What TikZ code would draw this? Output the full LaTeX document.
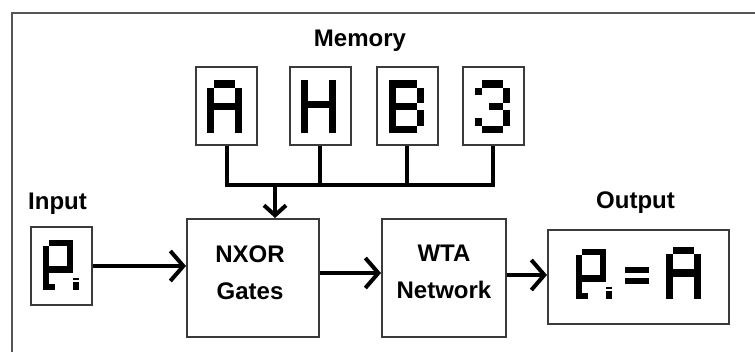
\documentclass[tikz,border=0pt]{standalone}
\usepackage{fontspec}
\setmainfont{Liberation Sans}
\usetikzlibrary{arrows.meta}
\definecolor{boxgray}{HTML}{3A3A3A}
\definecolor{framegray}{HTML}{555555}
\newcommand{\drawglyph}[3]{\foreach \pa/\pb/\pc/\pd in #3 {\fill (\pa*#1,\pb*#2) rectangle (\pc*#1,\pd*#2);}}
\newcommand{\pixA}{1/0/4/1,0/1/1/7,4/1/5/7,1/3/4/4}
\newcommand{\pixH}{0/0/1/7,4/0/5/7,1/2.7/4/3.7}
\newcommand{\pixB}{0/0/4/1,0/0/1/7,4/1/5/3,0/3/4/4,4/4/5/6,0/6/4/7}
\newcommand{\pixThree}{1/0/4/1,0/1/1/2,4/1/5/3,2/3/4/4,4/4/5/6,0/5/1/6,1/6/4/7}
\newcommand{\pixAbad}{1/0/5/1,0/1/1/8,4/1/5/5.3,1/4.1/5/5.3,1/7/2/8,5/6.8/6/8,5/6.1/6/6.45}
\tikzset{
  box/.style={draw=boxgray, line width=2pt, fill=white, inner sep=0pt},
  membox/.style={box, minimum width=61pt, minimum height=78pt},
  lbl/.style={font=\bfseries\fontsize{24}{37}\selectfont, align=center, inner sep=0pt},
  arr/.style={line width=4pt, -{Straight Barb[length=13pt,width=30pt]}},
  downarr/.style={line width=4pt, -{Straight Barb[length=10pt,width=22pt]}},
  bus/.style={line width=4pt, line join=miter},
}
\begin{document}
\begin{tikzpicture}[x=1pt,y=-1pt]
\useasboundingbox (0,0) rectangle (755,352);
\fill[white] (0,0) rectangle (755,352);
\draw[framegray, line width=2pt] (12,352) -- (12,13) -- (755,13);

% labels
\node[lbl, anchor=base] (memlbl) at (360,46.7) {Memory};
\node[lbl, anchor=base] (inlbl) at (57.5,210) {Input};
\node[lbl, anchor=base] (outlbl) at (635.5,209) {Output};

% memory boxes
\node[membox] (memA) at (226.5,106) {};
\node[membox] (memH) at (320,106) {};
\node[membox] (memB) at (407,106) {};
\node[membox] (mem3) at (493,106) {};
\begin{scope}[shift={(memA.north west)}, xshift=12pt, yshift=-14pt]
  \drawglyph{7}{7.6}{\pixA}
\end{scope}
\begin{scope}[shift={(memH.north west)}, xshift=12pt, yshift=-14pt]
  \drawglyph{7}{7.6}{\pixH}
\end{scope}
\begin{scope}[shift={(memB.north west)}, xshift=13pt, yshift=-14pt]
  \drawglyph{7}{7.6}{\pixB}
\end{scope}
\begin{scope}[shift={(mem3.north west)}, xshift=13.7pt, yshift=-14pt]
  \drawglyph{7}{7.6}{\pixThree}
\end{scope}

% main boxes
\node[box, minimum width=61pt, minimum height=78pt] (inp) at (61.5,266) {};
\begin{scope}[shift={(inp.north west)}, xshift=12.5pt, yshift=-14pt]
  \drawglyph{6}{6.25}{\pixAbad}
\end{scope}
\node[box, minimum width=132pt, minimum height=118pt] (nxor) at (253,278) {};
\node[lbl] (nxorlbl) at (250,273) {NXOR\\Gates};
\node[box, minimum width=124pt, minimum height=118pt] (wta) at (444,278) {};
\node[lbl] (wtalbl) at (444,272) {WTA\\Network};
\node[box, minimum width=181pt, minimum height=94pt] (out) at (638.5,277) {};
\begin{scope}[shift={(out.north west)}, xshift=28.5pt, yshift=-20pt]
  \drawglyph{6}{6.25}{\pixAbad}
\end{scope}
\begin{scope}[shift={(out.north west)}, xshift=118.7pt, yshift=-18pt]
  \drawglyph{7}{7.5}{\pixA}
\end{scope}
\begin{scope}[shift={(out.north west)}]
  \fill (78,38) rectangle (102,44);
  \fill (78,49) rectangle (102,55);
\end{scope}

% bus
\coordinate (busy) at (0,185);
\coordinate (join) at (275,185);
\draw[bus] (memA.south) -- (memA.south |- busy) -- (mem3.south |- busy) -- (mem3.south);
\draw[bus] (memH.south) -- (memH.south |- busy);
\draw[bus] (memB.south) -- (memB.south |- busy);
\draw[downarr] (join) -- (join |- nxor.north);

% arrows
\draw[arr] (inp.east) -- (inp.east -| nxor.west);
\draw[arr] ([yshift=5pt]nxor.east) -- ([yshift=5pt]nxor.east -| wta.west);
\draw[arr] ([yshift=3pt]wta.east) -- ([yshift=3pt]wta.east -| out.west);
\end{tikzpicture}
\end{document}
